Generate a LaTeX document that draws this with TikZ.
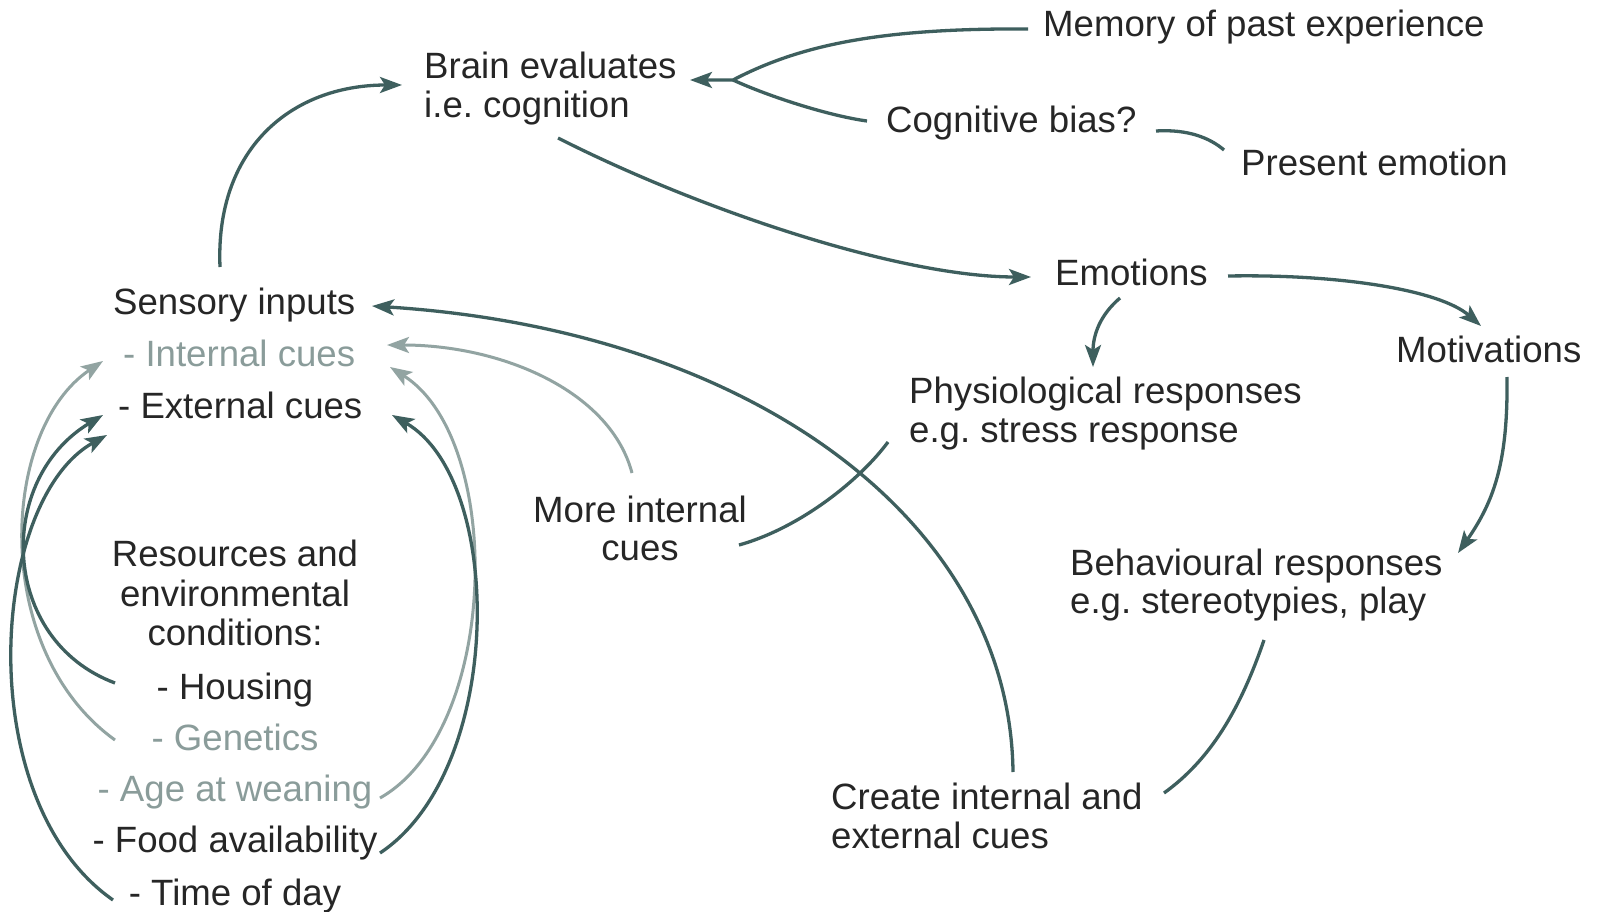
\documentclass[tikz,border=0pt]{standalone}
\usepackage{fontspec}
\setmainfont{Liberation Sans}
\usetikzlibrary{arrows.meta}
\definecolor{txt}{HTML}{262626}
\definecolor{ltxt}{HTML}{8A9C9A}
\definecolor{ln}{HTML}{3E5F5E}
\definecolor{lln}{HTML}{92A4A2}
\frenchspacing
\begin{document}
\begin{tikzpicture}[x=1pt,y=-1pt,
  font=\fontsize{36.6}{40}\selectfont,
  lbl/.style={inner sep=0pt,text=txt,anchor=base west},
  lblc/.style={inner sep=0pt,text=txt,anchor=base},
  light/.style={text=ltxt},
  dk/.style={draw=ln,line width=3.3pt},
  lt/.style={draw=lln,line width=3pt},
  arr/.style={-{Stealth[length=22pt,width=16pt,inset=5pt]}}]
\useasboundingbox (0,0) rectangle (1597,912);
\fill[white] (0,0) rectangle (1597,912);

% texts
\node[lbl] (mem) at (1043,37) {Memory of past experience};
\node[lbl] (brain1) at (424,79) {Brain evaluates};
\node[lbl] (brain2) at (424,118) {i.e. cognition};
\node[lbl] (cog) at (886,133) {Cognitive bias?};
\node[lbl] (pres) at (1241,176) {Present emotion};
\node[lbl] (emo) at (1055,285) {Emotions};
\node[lbl] (mot) at (1396,362) {Motivations};
\node[lbl] (phys1) at (909,403) {Physiological responses};
\node[lbl] (phys2) at (909,442) {e.g. stress response};
\node[lbl] (beh1) at (1070,575) {Behavioural responses};
\node[lbl] (beh2) at (1070,613) {e.g. stereotypies, play};
\node[lblc] (more1) at (640,522) {More internal};
\node[lblc] (more2) at (640,560) {cues};
\node[lbl] (create1) at (831,809) {Create internal and};
\node[lbl] (create2) at (831,848) {external cues};
\node[lbl] (sens) at (113,314) {Sensory inputs};
\node[lbl,light] (intc) at (123,366) {- Internal cues};
\node[lbl] (extc) at (118,418) {- External cues};
\node[lblc] (res1) at (235,566) {Resources and};
\node[lblc] (res2) at (235,606) {environmental};
\node[lblc] (res3) at (235,645) {conditions:};
\node[lblc] (hous) at (235,699) {- Housing};
\node[lblc,light] (gen) at (235,750) {- Genetics};
\node[lblc,light] (age) at (235,801) {- Age at weaning};
\node[lblc] (food) at (235,852) {- Food availability};
\node[lblc] (time) at (235,905) {- Time of day};

% connector end points
\coordinate (sensTop) at (220,267);
\coordinate (brainIn) at (402,85);
\coordinate (brainOut) at (558,138);
\coordinate (emoIn) at (1031,277);
\coordinate (memOut) at (1028,29);
\coordinate (J) at (733,80);
\coordinate (brainR) at (690,80);
\coordinate (cogOut) at (867,121);
\coordinate (cogR) at (1156,131);
\coordinate (presL) at (1224,150);
\coordinate (emoR) at (1228,276);
\coordinate (motIn) at (1481,326);
\coordinate (emoB) at (1120,298);
\coordinate (physIn) at (1093,367);
\coordinate (motB) at (1507,377);
\coordinate (behIn) at (1458,553);
\coordinate (behB) at (1264,640);
\coordinate (createR) at (1164,793);
\coordinate (createT) at (1013,772);
\coordinate (sensR) at (372,306);
\coordinate (physL) at (888,442);
\coordinate (moreR) at (739,545);
\coordinate (moreT) at (632,473);
\coordinate (intR) at (387,345);
\coordinate (ageR) at (380,798);
\coordinate (intR2) at (390,367);
\coordinate (foodR) at (380,853);
\coordinate (extR) at (392,415);
\coordinate (genL) at (115,740);
\coordinate (intL) at (103,361);
\coordinate (housL) at (115,683);
\coordinate (extL1) at (103,415);
\coordinate (timeL) at (113,900);
\coordinate (extL2) at (107,435);

% light connectors
\draw[lt,arr] (moreT) .. controls (610,390) and (500,345) .. (intR);
\draw[lt,arr] (ageR) .. controls (500,730) and (505,440) .. (intR2);
\draw[lt,arr] (genL) .. controls (-10,650) and (0,430) .. (intL);

% dark connectors
\draw[dk,arr] (sensTop) .. controls (215,150) and (290,85) .. (brainIn);
\draw[dk,arr] (brainOut) .. controls (700,210) and (900,277) .. (emoIn);
\draw[dk,arr] (memOut) .. controls (880,28) and (800,45) .. (J) -- (brainR);
\draw[dk] (cogOut) .. controls (830,116) and (770,97) .. (J);
\draw[dk] (cogR) .. controls (1188,129) and (1210,138) .. (presL);
\draw[dk,arr] (emoR) .. controls (1340,274) and (1440,290) .. (motIn);
\draw[dk,arr] (emoB) .. controls (1100,315) and (1093,335) .. (physIn);
\draw[dk,arr] (motB) .. controls (1508,460) and (1495,500) .. (behIn);
\draw[dk] (behB) .. controls (1240,710) and (1210,760) .. (createR);
\draw[dk,arr] (createT) .. controls (1010,520) and (750,330) .. (sensR);
\draw[dk] (physL) .. controls (860,480) and (800,528) .. (moreR);
\draw[dk,arr] (foodR) .. controls (505,770) and (505,480) .. (extR);
\draw[dk,arr] (housL) .. controls (0,640) and (-5,480) .. (extL1);
\draw[dk,arr] (timeL) .. controls (-30,800) and (-10,500) .. (extL2);
\end{tikzpicture}
\end{document}
